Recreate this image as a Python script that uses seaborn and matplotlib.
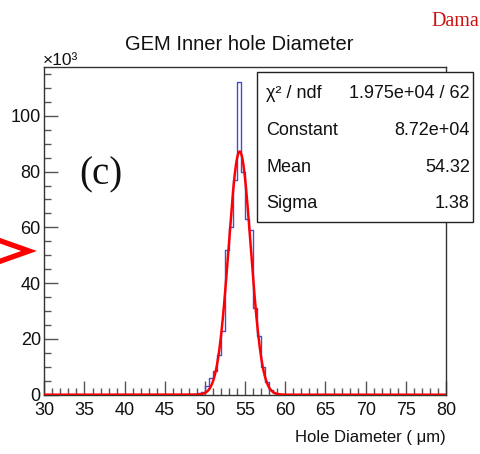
import numpy as np
import pandas as pd
import matplotlib
matplotlib.use("Agg")
import matplotlib.pyplot as plt
import seaborn as sns
from matplotlib import font_manager
from matplotlib.lines import Line2D
from matplotlib.patches import Rectangle
from matplotlib.ticker import MultipleLocator

# ---------------- data ----------------
bin_lower_edges = [47.5, 48.0, 48.5, 49.0, 49.5, 50.0, 50.5, 51.0, 51.5, 52.0,
                   52.5, 53.0, 53.5, 54.0, 54.5, 55.0, 55.5, 56.0, 56.5, 57.0,
                   57.5, 58.0, 58.5, 59.0]
bin_counts = [200, 300, 400, 500, 900, 3000, 6000, 8500, 14400, 22800,
              52000, 60000, 77000, 112000, 80000, 63000, 59000, 31000, 21000, 10000,
              4500, 1800, 600, 200]
bin_width = 0.5
x_range = (30, 80)

fit_chi2 = "1.975e+04"
fit_ndf = 62
fit_constant = 8.72e4
fit_mean = 54.32
fit_sigma = 1.38

title = "GEM Inner hole Diameter"
x_label = "Hole Diameter ( μm)"
panel_label = "(c)"
corner_text = "Dama"

# ---------------- style ----------------
sns.set_style("ticks")
names = {f.name for f in font_manager.fontManager.ttflist}
SANS = "Liberation Sans Narrow" if "Liberation Sans Narrow" in names else "Liberation Sans"
SERIF = "Liberation Serif"
plt.rcParams["font.family"] = [SANS, "DejaVu Sans"]

W, H = 481, 454
fig = plt.figure(figsize=(W / 100, H / 100), dpi=100)
fig.patch.set_facecolor("white")

def fx(x):
    return x / W

def fy(y):
    return 1 - y / H

ax_l, ax_r, ax_t, ax_b = 44.3, 446, 66.7, 394.7
ax = fig.add_axes([fx(ax_l), fy(ax_b), (ax_r - ax_l) / W, (ax_b - ax_t) / H])
ax.set_facecolor("white")

df = pd.DataFrame({"center": np.array(bin_lower_edges) + bin_width / 2,
                   "count_k": np.array(bin_counts) / 1000.0})

sns.histplot(data=df, x="center", weights="count_k", binwidth=bin_width,
             binrange=x_range, element="step", fill=False, color="#4a4ad0",
             linewidth=1.0, ax=ax)

xs = np.linspace(x_range[0], x_range[1], 1001)
ys = fit_constant * np.exp(-0.5 * ((xs - fit_mean) / fit_sigma) ** 2) / 1000.0
sns.lineplot(x=xs, y=ys, color="#ff0000", linewidth=1.8, ax=ax, zorder=5)

ax.set_xlim(*x_range)
ax.set_ylim(0, 117.6)
ax.set_ylabel("")
ax.set_xlabel(x_label, fontsize=12, color="#111111")
ax.xaxis.set_label_coords(1.0, -0.132)
ax.xaxis.label.set_ha("right")
ax.xaxis.label.set_va("center")

ax.xaxis.set_major_locator(MultipleLocator(5))
ax.xaxis.set_minor_locator(MultipleLocator(1))
ax.yaxis.set_major_locator(MultipleLocator(20))
ax.yaxis.set_minor_locator(MultipleLocator(5))
ax.tick_params(which="major", direction="in", length=10, width=1.0, color="#555555",
               labelsize=13, labelcolor="#111111")
ax.tick_params(which="minor", direction="in", length=5, width=1.0, color="#555555")
ax.tick_params(axis="x", which="major", pad=5)
ax.tick_params(axis="y", which="major", pad=2.5)
for s in ax.spines.values():
    s.set_color("#333333")
    s.set_linewidth(1.0)

# title and multiplier
fig.text(fx(239), fy(45), title, ha="center", va="center", fontsize=14.5, color="#111111")
fig.text(fx(43), fy(65), "×10³", ha="left", va="baseline", fontsize=12.5, color="#111111")

# panel label and corner text
fig.text(fx(101), fy(175), panel_label, ha="center", va="center", fontsize=28,
         family=SERIF, color="#111111")
fig.text(fx(431), fy(22), corner_text, ha="left", va="center", fontsize=14.5,
         family=SERIF, color="#cc1010")

# red chevron at left edge
fig.add_artist(Line2D([fx(-2), fx(29), fx(-2)], [fy(240), fy(251), fy(262)],
                      transform=fig.transFigure, color="#ff0000", linewidth=3.8,
                      solid_joinstyle="miter"))

# stats box
bx0, bx1, by0, by1 = 257, 472.7, 71.7, 222
fig.add_artist(Rectangle((fx(bx0), fy(by1)), (bx1 - bx0) / W, (by1 - by0) / H,
                         transform=fig.transFigure, facecolor="white",
                         edgecolor="#222222", linewidth=1.0, zorder=10))
rows = [("χ² / ndf", f"{fit_chi2} / {fit_ndf}"),
        ("Constant", f"{fit_constant:.2e}"),
        ("Mean", f"{fit_mean:.2f}"),
        ("Sigma", f"{fit_sigma:.2f}")]
row_y = [93.3, 130.7, 167.3, 204]
for (lab, val), yy in zip(rows, row_y):
    fig.text(fx(266.5), fy(yy), lab, ha="left", va="center", fontsize=13,
             color="#111111", zorder=11)
    fig.text(fx(470), fy(yy), val, ha="right", va="center", fontsize=13,
             color="#111111", zorder=11)

fig.savefig("out.png", dpi=100)
